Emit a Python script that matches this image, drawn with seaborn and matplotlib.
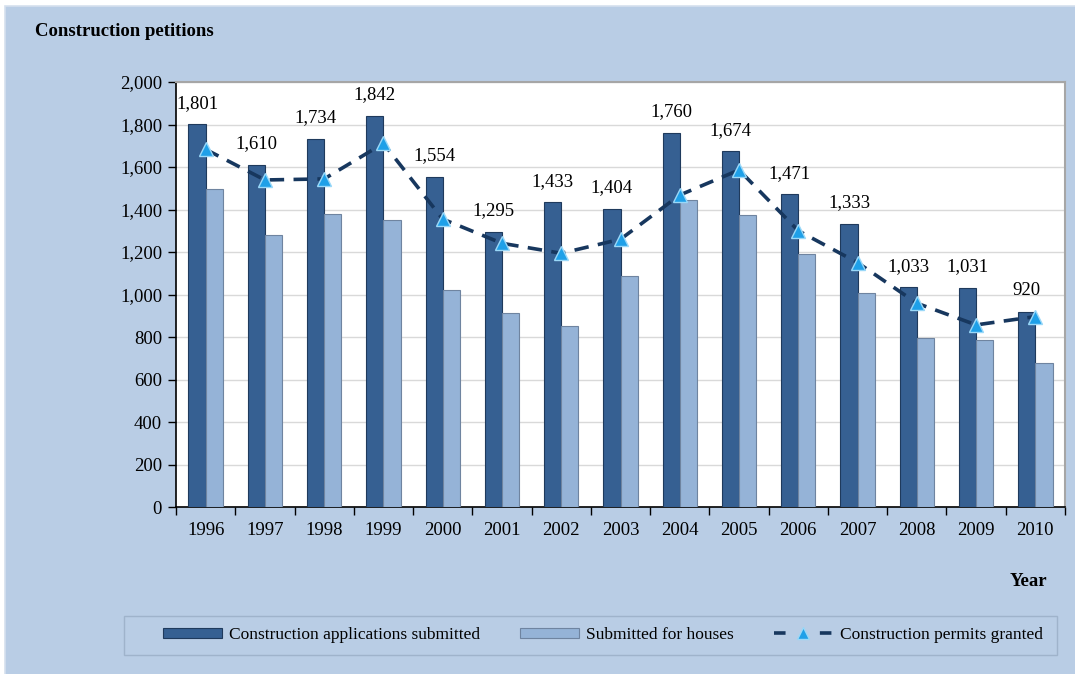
import numpy as np
import pandas as pd
import matplotlib
matplotlib.use("Agg")
import matplotlib.pyplot as plt
import seaborn as sns
from matplotlib.patches import Rectangle
from matplotlib.lines import Line2D
from matplotlib.patches import Patch
from matplotlib.ticker import FuncFormatter, MultipleLocator

years = ["1996", "1997", "1998", "1999", "2000", "2001", "2002", "2003",
         "2004", "2005", "2006", "2007", "2008", "2009", "2010"]
applications = [1801, 1610, 1734, 1842, 1554, 1295, 1433, 1404,
                1760, 1674, 1471, 1333, 1033, 1031, 920]
houses = [1497, 1279, 1380, 1349, 1020, 911, 853, 1086,
          1443, 1373, 1191, 1006, 794, 784, 676]
permits = [1683, 1539, 1544, 1711, 1355, 1241, 1194, 1260,
           1468, 1586, 1300, 1150, 959, 857, 896]

s1 = "Construction applications submitted"
s2 = "Submitted for houses"
s3 = "Construction permits granted"

df = pd.DataFrame({
    "Year": years * 2,
    "Value": applications + houses,
    "Series": [s1] * len(years) + [s2] * len(years),
})

sns.set_theme(style="white")
plt.rcParams["font.family"] = ["Liberation Serif", "DejaVu Serif"]

BG = "#B9CDE5"
DARK = "#366092"
LIGHT = "#95B3D7"
LINE = "#17375E"

fig = plt.figure(figsize=(10.75, 6.74), dpi=100, facecolor="white")
# chart area background with light border at top/left
bgrect = Rectangle((5 / 1075, -0.05), 1.1, 1 - 6 / 674 + 0.05,
                   transform=fig.transFigure, facecolor=BG,
                   edgecolor="#D5E0EE", lw=1.2, zorder=-10)
fig.patches.append(bgrect)

ax = fig.add_axes([176 / 1075, 1 - 507 / 674, (1065 - 176) / 1075, (507 - 82) / 674])
ax.set_facecolor("white")
ax.set_zorder(1)

sns.barplot(data=df, x="Year", y="Value", hue="Series", order=years,
            hue_order=[s1, s2], palette=[DARK, LIGHT], width=0.58, gap=0,
            saturation=1, ax=ax, legend=False, zorder=3)
edgecols = ["#1F3A5C", "#6F84A0"]
for cont, ec in zip(ax.containers, edgecols):
    for b in cont:
        b.set_edgecolor(ec)
        b.set_linewidth(0.8)

ax.plot(np.arange(len(years)), permits, color=LINE, lw=2.6,
        linestyle=(0, (4, 2.6)), marker="^", markersize=9.5,
        markerfacecolor="#1FA0E8", markeredgecolor="#9AD8F8",
        markeredgewidth=1.0, zorder=4, dash_capstyle="butt")

ax.bar_label(ax.containers[0], labels=[f"{v:,}" for v in applications],
             padding=9, fontsize=13.5, color="black")

ax.set_ylim(0, 2000)
ax.set_xlim(-0.5, len(years) - 0.5)
ax.yaxis.set_major_locator(MultipleLocator(200))
ax.yaxis.set_major_formatter(FuncFormatter(lambda v, p: f"{int(v):,}"))
ax.grid(axis="y", color="#D9D9D9", lw=1, zorder=0)
ax.set_axisbelow(True)
ax.set_xlabel("")
ax.set_ylabel("")

ax.tick_params(axis="y", which="major", direction="out", length=6, width=1,
               color="black", labelsize=13.5, pad=4, left=True, labelcolor="black")
ax.set_xticks(np.arange(len(years)))
ax.set_xticklabels(years)
ax.set_xticks(np.arange(len(years) + 1) - 0.5, minor=True)
ax.tick_params(axis="x", which="major", length=0, labelsize=13.5, pad=11,
               labelcolor="black")
ax.tick_params(axis="x", which="minor", direction="out", length=6, width=1,
               color="black", bottom=True)

for side in ["left", "bottom"]:
    ax.spines[side].set_color("black")
    ax.spines[side].set_linewidth(1.2)
for side in ["top", "right"]:
    ax.spines[side].set_color("#A6A6A6")
    ax.spines[side].set_linewidth(1.5)

fig.text(35 / 1075, 1 - 31 / 674, "Construction petitions", fontsize=13.5,
         fontweight="bold", ha="left", va="center", color="black")
fig.text(1028 / 1075, 1 - 582 / 674, "Year", fontsize=13.5,
         fontweight="bold", ha="center", va="center", color="black")

# legend frame
fig.patches.append(Rectangle((124 / 1075, 1 - 655 / 674), (1057 - 124) / 1075,
                             (655 - 616) / 674, transform=fig.transFigure,
                             facecolor="none", edgecolor="#9FB3CB", lw=1,
                             zorder=-5))
handles = [
    Patch(facecolor=DARK, edgecolor="#1F3A5C", lw=0.8),
    Patch(facecolor=LIGHT, edgecolor="#6F84A0", lw=0.8),
    Line2D([], [], color=LINE, lw=2.6, linestyle=(0, (3.2, 9.5)), marker="^",
           markersize=8, markerfacecolor="#1FA0E8", markeredgecolor="#9AD8F8"),
]
leg = fig.legend(handles, [s1, s2, s3], loc="center",
                 bbox_to_anchor=(603 / 1075, 1 - 635 / 674), ncol=3, frameon=False,
                 fontsize=12.5, handlelength=3.4, handleheight=0.5, handletextpad=0.4,
                 columnspacing=2.3, borderpad=0, labelcolor="black")

fig.savefig("out.png", dpi=100, facecolor="white")
